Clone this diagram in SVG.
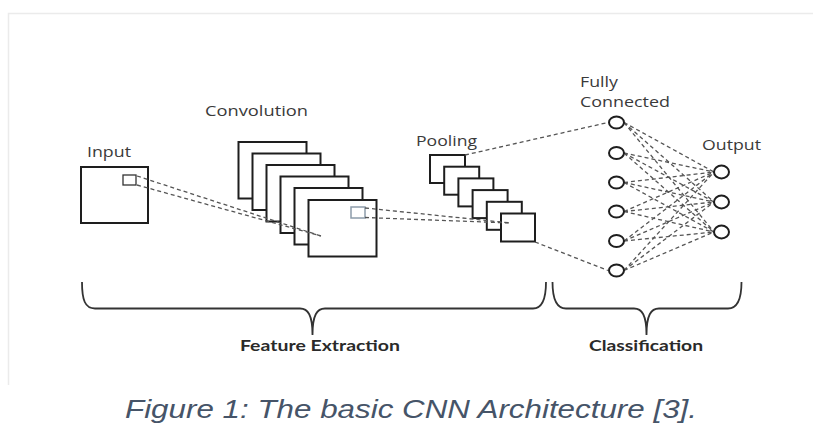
<svg xmlns="http://www.w3.org/2000/svg" width="836" height="443" viewBox="0 0 836 443">
<style>
.box{fill:#fff;stroke:#1e1e1e;stroke-width:2}
.node{fill:#fff;stroke:#1e1e1e;stroke-width:2}
.dash{fill:none;stroke:#555;stroke-width:1.3;stroke-dasharray:4 3}
.lbl{font-family:"Open Sans","Noto Sans",sans-serif;font-size:14.5px;fill:#3a3a3a}
.blbl{font-family:Lato,"Open Sans",sans-serif;font-weight:bold;font-size:15px;fill:#2a2a2a}
.brace{fill:none;stroke:#333;stroke-width:1.8}
.cap{font-family:"Liberation Sans",Arial,sans-serif;font-style:italic;font-size:25px;fill:#465468}
</style>
<rect x="0" y="0" width="836" height="443" fill="#fff"/>
<path d="M8.5,385 V13.5 H813" fill="none" stroke="#ebebeb" stroke-width="1.5"/>

<g id="input">
<rect class="box" x="81" y="167" width="67" height="56"/>
<rect x="123" y="175" width="13" height="10" fill="none" stroke="#333" stroke-width="1.3"/>
<text class="lbl" x="87" y="157" textLength="44" lengthAdjust="spacingAndGlyphs">Input</text>
</g>

<g id="convolution">
<rect class="box" x="238.5" y="142" width="68" height="56.5"/>
<rect class="box" x="252.5" y="153.5" width="68" height="56.5"/>
<rect class="box" x="266.5" y="165" width="68" height="56.5"/>
<rect class="box" x="280.5" y="176.5" width="68" height="56.5"/>
<rect class="box" x="294.5" y="188" width="68" height="56.5"/>
<rect class="box" x="308.5" y="200" width="68" height="56.5"/>
<rect x="351" y="207" width="14" height="11" fill="none" stroke="#8d9caa" stroke-width="1.5"/>
<text class="lbl" x="205" y="115.5" textLength="103" lengthAdjust="spacingAndGlyphs">Convolution</text>
</g>

<g id="pooling">
<rect class="box" x="430" y="155" width="35" height="28"/>
<rect class="box" x="444.2" y="166.7" width="35" height="28"/>
<rect class="box" x="458.4" y="178.4" width="35" height="28"/>
<rect class="box" x="472.6" y="190.1" width="35" height="28"/>
<rect class="box" x="486.8" y="201.8" width="35" height="28"/>
<rect class="box" x="501" y="213.5" width="34" height="28"/>
<text class="lbl" x="416" y="146" textLength="61" lengthAdjust="spacingAndGlyphs">Pooling</text>
</g>

<g id="connectors">
<path class="dash" d="M137,176 L321,236"/>
<path class="dash" d="M137,185 L321,236"/>
<path class="dash" d="M365,208 L511,223"/>
<path class="dash" d="M365,217.5 L511,223"/>
<path class="dash" d="M465,155 L608,122.5"/>
<path class="dash" d="M535,242 L608,270.5"/>
<path class="dash" d="M624,122.5 L714,172 M624,122.5 L714,202 M624,122.5 L714,232"/>
<path class="dash" d="M624,153 L714,172 M624,153 L714,202 M624,153 L714,232"/>
<path class="dash" d="M624,182.5 L714,172 M624,182.5 L714,202 M624,182.5 L714,232"/>
<path class="dash" d="M624,211.5 L714,172 M624,211.5 L714,202 M624,211.5 L714,232"/>
<path class="dash" d="M624,241 L714,172 M624,241 L714,202 M624,241 L714,232"/>
<path class="dash" d="M624,270.5 L714,172 M624,270.5 L714,202 M624,270.5 L714,232"/>
</g>

<g id="fully-connected">
<ellipse class="node" cx="616.5" cy="122.5" rx="7.5" ry="6"/>
<ellipse class="node" cx="616.5" cy="153" rx="7.5" ry="6"/>
<ellipse class="node" cx="616.5" cy="182.5" rx="7.5" ry="6"/>
<ellipse class="node" cx="616.5" cy="211.5" rx="7.5" ry="6"/>
<ellipse class="node" cx="616.5" cy="241" rx="7.5" ry="6"/>
<ellipse class="node" cx="616.5" cy="270.5" rx="7.5" ry="6"/>
<text class="lbl" x="580" y="86.5" textLength="38" lengthAdjust="spacingAndGlyphs">Fully</text>
<text class="lbl" x="580" y="106.5" textLength="90" lengthAdjust="spacingAndGlyphs">Connected</text>
</g>

<g id="output">
<ellipse class="node" cx="721.5" cy="172" rx="7.5" ry="6.5"/>
<ellipse class="node" cx="721.5" cy="202" rx="7.5" ry="6.5"/>
<ellipse class="node" cx="721.5" cy="232" rx="7.5" ry="6.5"/>
<text class="lbl" x="702" y="150" textLength="59" lengthAdjust="spacingAndGlyphs">Output</text>
</g>

<g id="feature-extraction">
<path class="brace" d="M82,282 C82,300 85,308.5 95,308.5 L300,308.5 C308,308.5 312.5,315 312.5,335 C312.5,315 317,308.5 325,308.5 L533,308.5 C542,308.5 546,300 546,282"/>
<text class="blbl" x="240" y="351" textLength="160" lengthAdjust="spacingAndGlyphs">Feature Extraction</text>
</g>

<g id="classification">
<path class="brace" d="M552.5,282 C552.5,300 557,308.5 566,308.5 L634,308.5 C642,308.5 646.5,315 646.5,335 C646.5,315 651,308.5 659,308.5 L728,308.5 C737,308.5 741.5,300 741.5,282"/>
<text class="blbl" x="589" y="351" textLength="114" lengthAdjust="spacingAndGlyphs">Classification</text>
</g>

<text class="cap" x="125" y="418" textLength="572" lengthAdjust="spacingAndGlyphs">Figure 1: The basic CNN Architecture [3].</text>
</svg>
